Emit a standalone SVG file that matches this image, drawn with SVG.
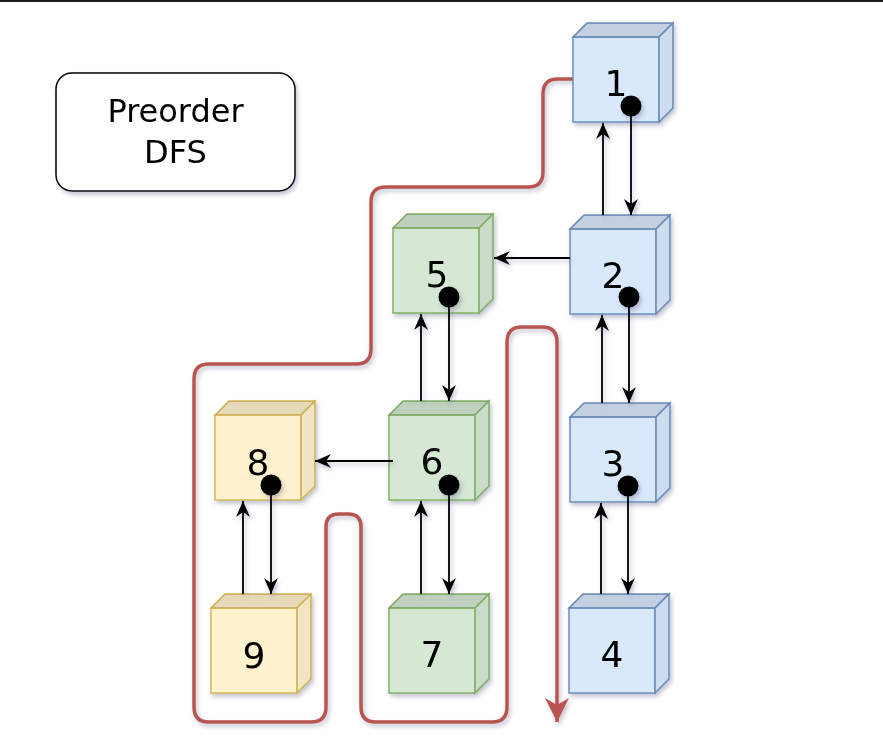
<svg xmlns="http://www.w3.org/2000/svg" width="883" height="749" viewBox="0 0 883 749">
<defs>
<filter id="sh" x="-20%" y="-20%" width="150%" height="150%">
<feDropShadow dx="2" dy="3" stdDeviation="2" flood-color="#5a5a80" flood-opacity="0.35"/>
</filter>
<marker id="ah" viewBox="0 0 16 14" refX="16" refY="7" markerWidth="16" markerHeight="14" markerUnits="userSpaceOnUse" orient="auto">
<path d="M0,0 L16,7 L0,14 L5,7 Z" fill="#000"/>
</marker>
<marker id="rh" viewBox="0 0 24 24" refX="24" refY="12" markerWidth="24" markerHeight="24" markerUnits="userSpaceOnUse" orient="auto">
<path d="M0,0 L24,12 L0,24 L7,12 Z" fill="#b85450"/>
</marker>
</defs>
<style>
.lbl{font-family:"Comic Sans MS","DejaVu Sans",sans-serif;fill:#000;text-anchor:middle}
.num{font-size:36px}
.blue .f{fill:#dae8fc;stroke:#6c8ebf;stroke-width:1.5}
.green .f{fill:#d5e8d4;stroke:#82b366;stroke-width:1.5}
.yellow .f{fill:#fff2cc;stroke:#d6b656;stroke-width:1.5}
.dk1{fill:#000;fill-opacity:0.1;stroke:none}
.dk2{fill:#000;fill-opacity:0.05;stroke:none}
.cn{stroke:#000;stroke-width:1.8;fill:none;marker-end:url(#ah)}
.dot{fill:#000}
</style>
<rect x="0" y="0" width="883" height="749" fill="#fff"/>
<rect x="0" y="0" width="883" height="2" fill="#1a1a1a"/>

<g id="title" filter="url(#sh)">
<rect x="56" y="73" width="239" height="118" rx="16" fill="#fff" stroke="#000" stroke-width="1.5"/>
<text class="lbl" x="175.5" y="122" font-size="32">Preorder</text>
<text class="lbl" x="175.5" y="163" font-size="32">DFS</text>
</g>

<g id="path-trace">
<path d="M573,79 L558,79 Q543,79 543,94 L543,172 Q543,187 528,187 L386,187 Q371,187 371,202 L371,349 Q371,364 356,364 L209,364 Q194,364 194,379 L194,707 Q194,722 209,722 L311,722 Q326,722 326,707 L326,527 Q326,514 339,514 L348,514 Q361,514 361,527 L361,707 Q361,722 376,722 L492,722 Q507,722 507,707 L507,342 Q507,327 522,327 L542,327 Q557,327 557,342 L557,722" fill="none" stroke="#b85450" stroke-width="3.5" marker-end="url(#rh)" filter="url(#sh)"/>
</g>

<g id="node1" class="blue" filter="url(#sh)">
<rect class="f" x="573" y="37" width="86" height="85"/>
<path class="f" d="M573,37 L587,23 L673,23 L659,37 Z"/><path class="dk1" d="M573,37 L587,23 L673,23 L659,37 Z"/>
<path class="f" d="M659,37 L673,23 L673,108 L659,122 Z"/><path class="dk2" d="M659,37 L673,23 L673,108 L659,122 Z"/>
<text class="lbl num" x="616" y="96">1</text>
</g>
<g id="node2" class="blue" filter="url(#sh)">
<rect class="f" x="570" y="229" width="86" height="85"/>
<path class="f" d="M570,229 L584,215 L670,215 L656,229 Z"/><path class="dk1" d="M570,229 L584,215 L670,215 L656,229 Z"/>
<path class="f" d="M656,229 L670,215 L670,300 L656,314 Z"/><path class="dk2" d="M656,229 L670,215 L670,300 L656,314 Z"/>
<text class="lbl num" x="613" y="288">2</text>
</g>
<g id="node3" class="blue" filter="url(#sh)">
<rect class="f" x="570" y="417" width="86" height="85"/>
<path class="f" d="M570,417 L584,403 L670,403 L656,417 Z"/><path class="dk1" d="M570,417 L584,403 L670,403 L656,417 Z"/>
<path class="f" d="M656,417 L670,403 L670,488 L656,502 Z"/><path class="dk2" d="M656,417 L670,403 L670,488 L656,502 Z"/>
<text class="lbl num" x="613" y="476">3</text>
</g>
<g id="node4" class="blue" filter="url(#sh)">
<rect class="f" x="569" y="608" width="86" height="85"/>
<path class="f" d="M569,608 L583,594 L669,594 L655,608 Z"/><path class="dk1" d="M569,608 L583,594 L669,594 L655,608 Z"/>
<path class="f" d="M655,608 L669,594 L669,679 L655,693 Z"/><path class="dk2" d="M655,608 L669,594 L669,679 L655,693 Z"/>
<text class="lbl num" x="612" y="667">4</text>
</g>
<g id="node5" class="green" filter="url(#sh)">
<rect class="f" x="393" y="228" width="86" height="85"/>
<path class="f" d="M393,228 L407,214 L493,214 L479,228 Z"/><path class="dk1" d="M393,228 L407,214 L493,214 L479,228 Z"/>
<path class="f" d="M479,228 L493,214 L493,299 L479,313 Z"/><path class="dk2" d="M479,228 L493,214 L493,299 L479,313 Z"/>
<text class="lbl num" x="437" y="287">5</text>
</g>
<g id="node6" class="green" filter="url(#sh)">
<rect class="f" x="389" y="415" width="86" height="85"/>
<path class="f" d="M389,415 L403,401 L489,401 L475,415 Z"/><path class="dk1" d="M389,415 L403,401 L489,401 L475,415 Z"/>
<path class="f" d="M475,415 L489,401 L489,486 L475,500 Z"/><path class="dk2" d="M475,415 L489,401 L489,486 L475,500 Z"/>
<text class="lbl num" x="432" y="474">6</text>
</g>
<g id="node7" class="green" filter="url(#sh)">
<rect class="f" x="389" y="608" width="86" height="85"/>
<path class="f" d="M389,608 L403,594 L489,594 L475,608 Z"/><path class="dk1" d="M389,608 L403,594 L489,594 L475,608 Z"/>
<path class="f" d="M475,608 L489,594 L489,679 L475,693 Z"/><path class="dk2" d="M475,608 L489,594 L489,679 L475,693 Z"/>
<text class="lbl num" x="432" y="667">7</text>
</g>
<g id="node8" class="yellow" filter="url(#sh)">
<rect class="f" x="215" y="415" width="86" height="85"/>
<path class="f" d="M215,415 L229,401 L315,401 L301,415 Z"/><path class="dk1" d="M215,415 L229,401 L315,401 L301,415 Z"/>
<path class="f" d="M301,415 L315,401 L315,486 L301,500 Z"/><path class="dk2" d="M301,415 L315,401 L315,486 L301,500 Z"/>
<text class="lbl num" x="258" y="475">8</text>
</g>
<g id="node9" class="yellow" filter="url(#sh)">
<rect class="f" x="211" y="608" width="86" height="85"/>
<path class="f" d="M211,608 L225,594 L311,594 L297,608 Z"/><path class="dk1" d="M211,608 L225,594 L311,594 L297,608 Z"/>
<path class="f" d="M297,608 L311,594 L311,679 L297,693 Z"/><path class="dk2" d="M297,608 L311,594 L311,679 L297,693 Z"/>
<text class="lbl num" x="254" y="668">9</text>
</g>

<g id="connectors" filter="url(#sh)">
<line class="cn" x1="631" y1="106" x2="631" y2="215"/>
<line class="cn" x1="603" y1="215" x2="603" y2="123"/>
<line class="cn" x1="570" y1="258" x2="494" y2="258"/>
<line class="cn" x1="629" y1="297" x2="629" y2="403"/>
<line class="cn" x1="602" y1="403" x2="602" y2="315"/>
<line class="cn" x1="628" y1="486" x2="628" y2="594"/>
<line class="cn" x1="601" y1="594" x2="601" y2="503"/>
<line class="cn" x1="449" y1="297" x2="449" y2="401"/>
<line class="cn" x1="421" y1="401" x2="421" y2="314"/>
<line class="cn" x1="393" y1="461" x2="315" y2="461"/>
<line class="cn" x1="449" y1="485" x2="449" y2="594"/>
<line class="cn" x1="421" y1="594" x2="421" y2="501"/>
<line class="cn" x1="271" y1="485" x2="271" y2="594"/>
<line class="cn" x1="243" y1="594" x2="243" y2="501"/>
<circle class="dot" cx="631" cy="106" r="10.5"/>
<circle class="dot" cx="629" cy="297" r="10.5"/>
<circle class="dot" cx="628" cy="486" r="10.5"/>
<circle class="dot" cx="449" cy="297" r="10.5"/>
<circle class="dot" cx="449" cy="485" r="10.5"/>
<circle class="dot" cx="271" cy="485" r="10.5"/>
</g>
</svg>
